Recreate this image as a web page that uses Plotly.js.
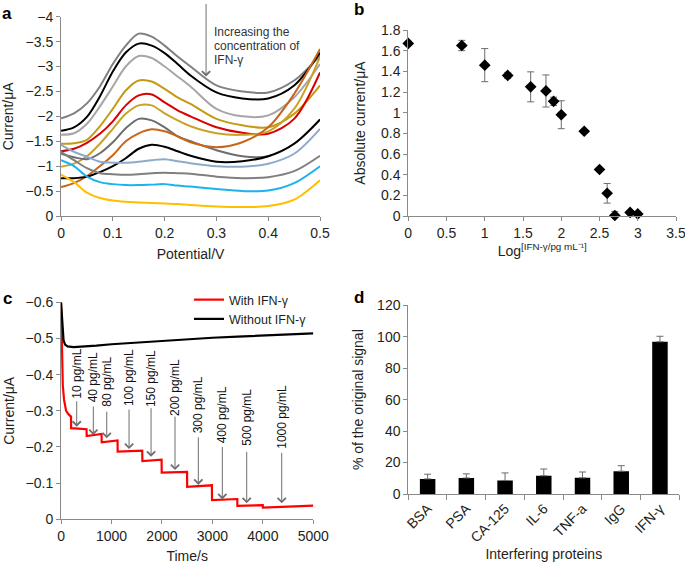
<!DOCTYPE html>
<html>
<head>
<meta charset="utf-8">
<script src="https://cdn.plot.ly/plotly-3.0.1.min.js"></script>
<style>html,body{margin:0;padding:0;background:#fff;}#chart{width:685px;height:564px;}</style>
</head>
<body>
<div id="chart"></div>
<script>
// ---------- Panel a: voltammograms ----------
const potential = [0, 0.025, 0.05, 0.075, 0.1, 0.125, 0.15, 0.175, 0.2, 0.225, 0.25, 0.3, 0.35, 0.4, 0.45, 0.5];
const curveGrayTop   = [-1.96,-2.06,-2.26,-2.6,-3.05,-3.42,-3.66,-3.6,-3.42,-3.2,-3.0,-2.62,-2.5,-2.48,-2.72,-3.22];
const curveBlack1    = [-1.71,-1.78,-1.99,-2.4,-2.9,-3.28,-3.46,-3.42,-3.27,-3.05,-2.82,-2.48,-2.36,-2.36,-2.62,-3.28];
const curveLightGray = [-1.63,-1.66,-1.85,-2.2,-2.6,-3.0,-3.21,-3.17,-3.0,-2.8,-2.6,-2.15,-2.0,-2.02,-2.38,-3.05];
const curveGold1     = [-1.45,-1.46,-1.53,-1.8,-2.15,-2.52,-2.72,-2.7,-2.55,-2.38,-2.25,-1.95,-1.82,-1.78,-2.05,-2.62];
const curveRed       = [-1.3,-1.35,-1.47,-1.65,-1.9,-2.22,-2.42,-2.44,-2.28,-2.12,-2.0,-1.78,-1.67,-1.65,-1.95,-2.88];
const curveGold2     = [-0.99,-1.05,-1.2,-1.45,-1.75,-2.05,-2.22,-2.22,-2.06,-1.92,-1.8,-1.66,-1.63,-1.7,-2.15,-3.2];
const curveDarkGray  = [-1.25,-1.18,-1.14,-1.26,-1.48,-1.76,-1.95,-1.92,-1.78,-1.6,-1.5,-1.32,-1.2,-1.2,-1.45,-1.93];
const curveOrange    = [-0.58,-0.66,-0.8,-1.0,-1.22,-1.5,-1.66,-1.74,-1.7,-1.6,-1.48,-1.38,-1.48,-1.78,-2.45,-3.35];
const curveBlack2    = [-0.76,-0.76,-0.79,-0.88,-1.0,-1.16,-1.35,-1.43,-1.39,-1.3,-1.21,-1.09,-1.1,-1.2,-1.45,-1.94];
const curveBlueGray  = [-1.43,-1.29,-1.19,-1.09,-1.07,-1.07,-1.09,-1.12,-1.14,-1.1,-1.06,-1.0,-0.99,-1.05,-1.25,-1.75];
const curveGrayMid   = [-1.29,-1.12,-0.96,-0.86,-0.84,-0.83,-0.84,-0.86,-0.87,-0.86,-0.85,-0.79,-0.76,-0.78,-0.9,-1.21];
const curveSkyBlue   = [-1.12,-1.0,-0.79,-0.68,-0.64,-0.62,-0.62,-0.63,-0.64,-0.61,-0.59,-0.54,-0.5,-0.51,-0.66,-1.0];
const curveAmber     = [-0.83,-0.68,-0.47,-0.36,-0.31,-0.285,-0.27,-0.26,-0.25,-0.24,-0.22,-0.19,-0.18,-0.2,-0.33,-0.72];

// ---------- Panel b: calibration ----------
const logConc    = [0, 0.7, 1.0, 1.3, 1.6, 1.8, 1.9, 2.0, 2.3, 2.5, 2.6, 2.7, 2.9, 3.0];
const absCurrent = [1.67, 1.65, 1.46, 1.36, 1.25, 1.21, 1.11, 0.98, 0.82, 0.45, 0.22, 0.005, 0.035, 0.02];
const absErr     = [0.02, 0.05, 0.16, 0.03, 0.145, 0.155, 0.04, 0.135, 0.015, 0.015, 0.095, 0.04, 0.015, 0.015];

// ---------- Panel c: amperometric response ----------
const timeWith    = [0, 10, 20, 35, 60, 100, 150, 198, 200, 350, 505, 509, 650, 803, 806, 950, 1120, 1123, 1350, 1609, 1612, 1800, 1993, 1995, 2250, 2498, 2500, 2750, 2990, 2992, 3250, 3493, 3495, 3750, 3998, 4000, 4500, 5000];
const currentWith = [-0.6, -0.52, -0.43, -0.37, -0.33, -0.30, -0.29, -0.284, -0.252, -0.251, -0.249, -0.23, -0.232, -0.236, -0.213, -0.215, -0.218, -0.187, -0.188, -0.19, -0.161, -0.163, -0.165, -0.129, -0.129, -0.131, -0.09, -0.092, -0.094, -0.053, -0.054, -0.056, -0.037, -0.038, -0.039, -0.032, -0.035, -0.038];
const timeWithout    = [0, 15, 30, 50, 80, 130, 250, 400, 700, 1000, 1500, 2000, 2500, 3000, 3500, 4000, 4500, 5000];
const currentWithout = [-0.6, -0.56, -0.52, -0.495, -0.483, -0.478, -0.476, -0.477, -0.480, -0.484, -0.489, -0.494, -0.499, -0.502, -0.505, -0.508, -0.511, -0.514];
const additionLabels = ['10 pg/mL','40 pg/mL','80 pg/mL','100 pg/mL','150 pg/mL','200 pg/mL','300 pg/mL','400 pg/mL','500 pg/mL','1000 pg/mL'];
const additionTimes  = [311, 640, 906, 1348, 1784, 2259, 2721, 3197, 3680, 4374];
const additionTipI   = [-0.256, -0.233, -0.224, -0.194, -0.173, -0.136, -0.095, -0.055, -0.044, -0.044];

// ---------- Panel d: selectivity ----------
const proteins  = ['BSA','PSA','CA-125','IL-6','TNF-a','IgG','IFN-γ'];
const signalPct = [9.6, 10.2, 8.6, 11.6, 10.3, 14.5, 96.8];
const signalErr = [3.0, 2.6, 4.8, 4.3, 3.7, 3.5, 3.5];

// ---------- styling / layout offsets (pixels) ----------
const FONT = 'Liberation Sans, Arial, sans-serif';
const TXT = '#231f20';
const AX = '#8a8a8a';
const ARROW = '#6e6e6e';
const W = 685, H = 564;
const arrowTailOffsets = [-27, -30, -28, -41, -50, -55, -49, -54, -53, -52];
const labelCenterPx    = [374, 377, 382, 378, 379, 388, 405, 415, 417, 417];

const curveSet = [
  [curveGrayTop, '#808080'], [curveBlack1, '#000000'], [curveLightGray, '#a6a6a6'],
  [curveGold1, '#c49a14'], [curveRed, '#d80000'], [curveGold2, '#c9a227'],
  [curveDarkGray, '#6d6d6d'], [curveOrange, '#c8651b'], [curveBlack2, '#000000'],
  [curveBlueGray, '#8eaacb'], [curveGrayMid, '#7f7f7f'], [curveSkyBlue, '#1cb2ee'],
  [curveAmber, '#ffbf00']
];

const traces = curveSet.map(([ys, c]) => ({
  type: 'scatter', mode: 'lines', x: potential, y: ys, xaxis: 'x', yaxis: 'y',
  line: {color: c, width: 2, shape: 'spline', smoothing: 0.9}, showlegend: false, hoverinfo: 'skip'
}));

traces.push({
  type: 'scatter', mode: 'markers', x: logConc, y: absCurrent, xaxis: 'x2', yaxis: 'y2',
  marker: {symbol: 'diamond', size: 9, color: '#000'},
  error_y: {type: 'data', array: absErr, visible: true, color: '#6b6b6b', thickness: 1, width: 3.5},
  cliponaxis: false, showlegend: false
});

traces.push({
  type: 'scatter', mode: 'lines', x: timeWith, y: currentWith, xaxis: 'x3', yaxis: 'y3',
  name: 'With IFN-γ', line: {color: '#ff0000', width: 2.2}
});
traces.push({
  type: 'scatter', mode: 'lines', x: timeWithout, y: currentWithout, xaxis: 'x3', yaxis: 'y3',
  name: 'Without IFN-γ', line: {color: '#000000', width: 2.2}
});

traces.push({
  type: 'bar', x: proteins, y: signalPct, xaxis: 'x4', yaxis: 'y4', width: 0.4,
  marker: {color: '#000'},
  error_y: {type: 'data', symmetric: false, array: signalErr, arrayminus: signalPct.map(() => 0), visible: true, color: '#6b6b6b', thickness: 1, width: 3.5},
  showlegend: false
});

function axis(extra) {
  return Object.assign({
    showgrid: false, zeroline: false, showline: true, linecolor: AX, linewidth: 1,
    ticks: 'outside', ticklen: 4, tickcolor: AX, tickwidth: 1, ticklabeloverflow: 'allow',
    tickfont: {family: FONT, size: 14, color: TXT}
  }, extra);
}
function ttl(text, standoff) {
  return {text: text, standoff: standoff, font: {family: FONT, size: 14, color: TXT}};
}

const annotations = [];
// panel letters
[['a', 7, 14], ['b', 359, 10], ['c', 8, 298], ['d', 359, 297]].forEach(([t, px, py]) => {
  annotations.push({text: '<b>' + t + '</b>', xref: 'paper', yref: 'paper', x: px / W, y: 1 - py / H,
    xanchor: 'center', yanchor: 'middle', showarrow: false, font: {family: FONT, size: 17, color: '#000'}});
});
// panel a arrow + text
annotations.push({x: 0.28, y: -2.8, xref: 'x', yref: 'y', text: '', showarrow: true, ax: 0, ay: -74,
  arrowhead: 4, arrowsize: 1.6, arrowwidth: 1, arrowcolor: ARROW});
[['Increasing the', 32.5], ['concentration of', 46], ['IFN-γ', 59.5]].forEach(([t, py]) => {
  annotations.push({text: t, xref: 'paper', yref: 'paper', x: 212 / W, y: 1 - py / H,
    xanchor: 'left', yanchor: 'middle', showarrow: false, font: {family: FONT, size: 12, color: '#333'}});
});
// panel c addition arrows and rotated labels
additionLabels.forEach((lab, i) => {
  annotations.push({x: additionTimes[i], y: additionTipI[i], xref: 'x3', yref: 'y3', text: '',
    showarrow: true, ax: 0, ay: arrowTailOffsets[i], arrowhead: 4, arrowsize: 1.6, arrowwidth: 1, arrowcolor: ARROW});
  annotations.push({x: additionTimes[i], y: 1 - labelCenterPx[i] / H, xref: 'x3', yref: 'paper',
    text: lab, textangle: -90, showarrow: false, xanchor: 'center', yanchor: 'middle',
    font: {family: FONT, size: 12, color: '#111'}});
});

const layout = {
  width: W, height: H,
  margin: {l: 0, r: 0, t: 0, b: 0},
  paper_bgcolor: '#fff', plot_bgcolor: '#fff',
  font: {family: FONT, color: TXT},
  xaxis: axis({domain: [0.0891, 0.4672], anchor: 'y', range: [0, 0.5], dtick: 0.1, title: ttl('Potential/V', 9)}),
  yaxis: axis({domain: [0.617, 0.9704], anchor: 'x', range: [0, -4], dtick: 0.5, title: ttl('Current/μA', 8.5)}),
  xaxis2: axis({domain: [0.596, 0.9869], anchor: 'y2', range: [0, 3.5], dtick: 0.5, title: ttl('Log<sup>[IFN-γ/pg mL⁻¹]</sup>', 0)}),
  yaxis2: axis({domain: [0.617, 0.9468], anchor: 'x2', range: [0, 1.8], dtick: 0.2, title: ttl('Absolute current/μA', 12)}),
  xaxis3: axis({domain: [0.0891, 0.4574], anchor: 'y3', range: [0, 5000], dtick: 1000, title: ttl('Time/s', 9)}),
  yaxis3: axis({domain: [0.0793, 0.464], anchor: 'x3', range: [0, -0.6], dtick: 0.1, title: ttl('Current/μA', 7)}),
  xaxis4: axis({domain: [0.596, 0.9917], anchor: 'y4', type: 'category', tickson: 'boundaries', tickangle: -45, ticklen: 5, title: ttl('Interfering proteins', 4)}),
  yaxis4: axis({domain: [0.1241, 0.4587], anchor: 'x4', range: [0, 120], dtick: 20, title: ttl('% of the original signal', 10)}),
  legend: {x: 189 / W, y: 1 - 285 / H, xanchor: 'left', yanchor: 'top', bgcolor: 'rgba(0,0,0,0)',
    font: {family: FONT, size: 12.5, color: TXT}, tracegroupgap: 0},
  annotations: annotations,
  bargap: 0.6
};

Plotly.newPlot('chart', traces, layout, {displayModeBar: false, staticPlot: true});
</script>
</body>
</html>
